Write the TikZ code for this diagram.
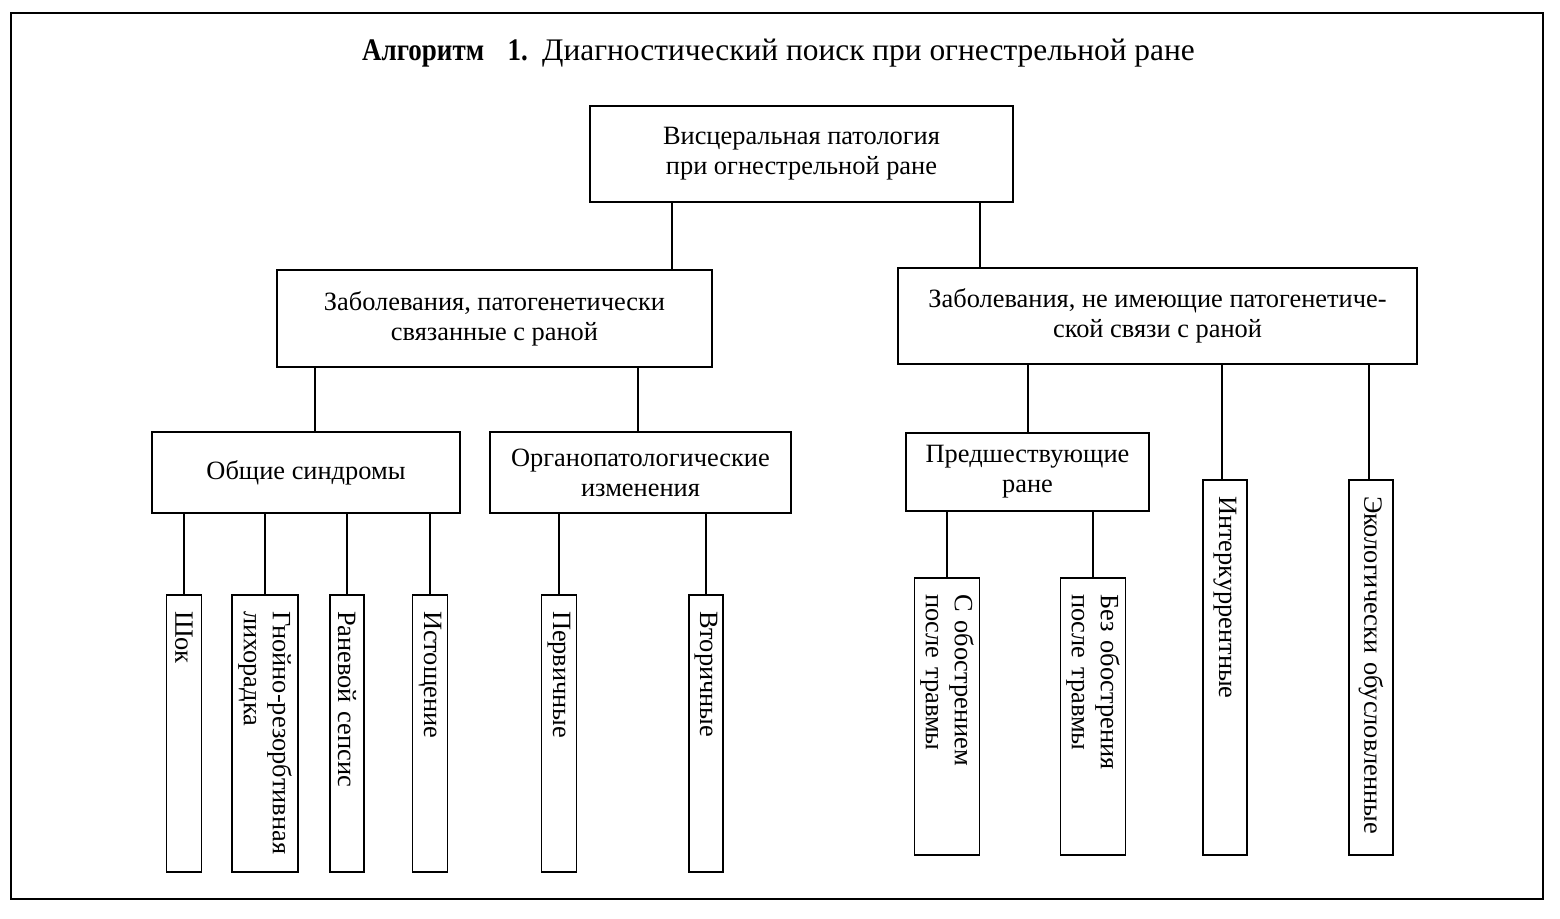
\documentclass[tikz,border=0pt]{standalone}
\usepackage{fontspec}
\setmainfont{Liberation Serif}
\begin{document}
\begin{tikzpicture}[x=1pt,y=1pt,
  box/.style={draw, line width=1.8pt, inner sep=0pt, align=center,
    font=\fontsize{26.4}{30}\selectfont},
  leaf/.style={draw, line width=1.8pt, rotate=-90, inner xsep=16pt, inner ysep=0pt,
    align=left, font=\fontsize{26.4}{29}\selectfont},
  link/.style={line width=1.8pt}]
\useasboundingbox (0,0) rectangle (1560,-918);
\node (frame) [draw, line width=2pt, minimum width=1532pt, minimum height=886pt, inner sep=0pt] at (777,-456) {};
\node (title) [anchor=base west, inner sep=0pt, font=\fontsize{31.4}{36}\selectfont] at (362,-60)
  {\scalebox{0.86}[1]{\textbf{Алгоритм}}\hspace{0.75em}\scalebox{0.86}[1]{\textbf{1.}}\hspace{0.45em}Диагностический поиск при огнестрельной ране};
% level 1
\node (top) [box, minimum width=423pt, minimum height=96pt] at (801.5,-154)
  {Висцеральная патология\\при огнестрельной ране};
% level 2
\node (L) [box, minimum width=435pt, minimum height=97pt] at (494.5,-318.5)
  {Заболевания, патогенетически\\связанные с раной};
\node (R) [box, minimum width=519pt, minimum height=96pt] at (1157.5,-316)
  {Заболевания, не имеющие патогенетиче-\\ской связи с раной};
% level 3
\node (OS) [box, minimum width=308pt, minimum height=81pt] at (306,-472.5) {Общие синдромы};
\node (OP) [box, minimum width=301pt, minimum height=81pt] at (640.5,-472.5)
  {Органопатологические\\изменения};
\node (PR) [box, minimum width=243pt, minimum height=78pt] at (1027.5,-472)
  {Предшествующие\\ране};
% leaves
\node (shok) [leaf, text width=245pt, minimum height=35pt] at (184,-733.5) {Шок};
\node (gnoi) [leaf, text width=245pt, minimum height=66pt] at (265,-733.5) {Гнойно-резорбтивная\\лихорадка};
\node (ran) [leaf, text width=245pt, minimum height=34pt] at (347,-733.5) {Раневой сепсис};
\node (ist) [leaf, text width=245pt, minimum height=35pt] at (430,-733.5) {Истощение};
\node (perv) [leaf, text width=245pt, minimum height=35pt] at (559,-733.5) {Первичные};
\node (vtor) [leaf, text width=245pt, minimum height=34pt] at (706,-733.5) {Вторичные};
\node (sobo) [leaf, text width=245pt, minimum height=65pt] at (947,-716.5) {С обострением\\после травмы};
\node (bez) [leaf, text width=245pt, minimum height=65pt] at (1093,-716.5) {Без обострения\\после травмы};
\node (inter) [leaf, text width=343pt, minimum height=44pt] at (1225,-667.5) {Интеркуррентные};
\node (eco) [leaf, text width=343pt, minimum height=44pt] at (1371,-667.5) {Экологически обусловленные};
% connector columns
\coordinate (c1) at (672,0);
\coordinate (c2) at (980,0);
\coordinate (c3) at (315,0);
\coordinate (c4) at (638,0);
\coordinate (c5) at (1028,0);
\coordinate (c6) at (1222,0);
\coordinate (c7) at (1369,0);
\draw[link] (top.south -| c1) -- (L.north -| c1);
\draw[link] (top.south -| c2) -- (R.north -| c2);
\draw[link] (L.south -| c3) -- (OS.north -| c3);
\draw[link] (L.south -| c4) -- (OP.north -| c4);
\draw[link] (R.south -| c5) -- (PR.north -| c5);
\draw[link] (R.south -| c6) -- (inter.west -| c6);
\draw[link] (R.south -| c7) -- (eco.west -| c7);
\foreach \n in {shok,gnoi,ran,ist} \draw[link] (OS.south -| \n.west) -- (\n.west);
\foreach \n in {perv,vtor} \draw[link] (OP.south -| \n.west) -- (\n.west);
\foreach \n in {sobo,bez} \draw[link] (PR.south -| \n.west) -- (\n.west);
\end{tikzpicture}
\end{document}
